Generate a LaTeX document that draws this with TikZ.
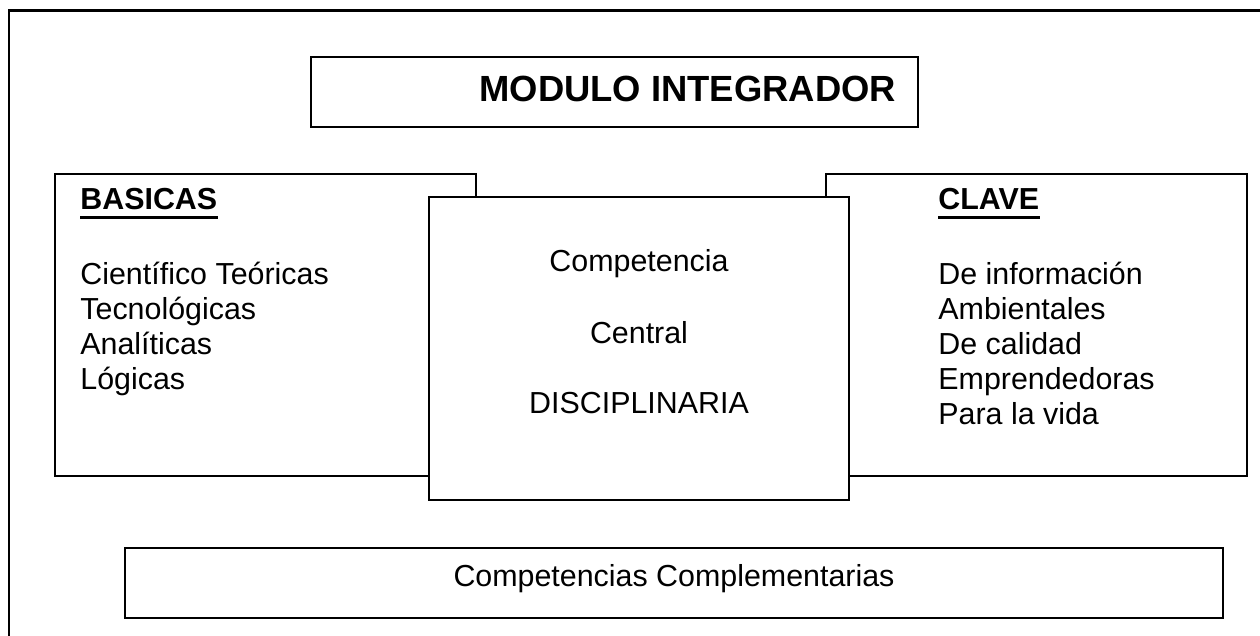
\documentclass[tikz,border=0pt]{standalone}
\usepackage{fontspec}
\setmainfont{Liberation Sans}
\usepackage{tikz}
\usetikzlibrary{positioning}

\begin{document}
\begin{tikzpicture}[x=0.5pt, y=-0.5pt]
        % ================= 样式定义 =================
        \tikzset{
            % 方框:白底黑边
            cbox/.style={draw=black, line width=0.9pt, fill=white, inner sep=0pt},
            % 正文文字 (左对齐, 以基线定位)
            ctext/.style={font=\fontsize{15.2pt}{18pt}\selectfont, inner sep=0pt, anchor=base west},
            % 粗体小标题
            chead/.style={ctext, font=\fontsize{15.2pt}{18pt}\selectfont\bfseries},
            % 居中文字
            cmid/.style={ctext, anchor=base},
            % 标题文字
            ctitle/.style={font=\fontsize{18.2pt}{22pt}\selectfont\bfseries, inner sep=0pt, anchor=base west},
            % 下划线
            uline/.style={line width=1.5pt, black}
        }

        \useasboundingbox (0,0) rectangle (1260,636);

        % ================= 外框 =================
        \draw[line width=1.2pt] (9,10.5) rectangle (1290,670);

        % ================= 标题 =================
        \node[cbox, minimum width=303.5pt, minimum height=35pt] (title) at (614.5,92) {};
        \node[ctitle] (titletext) at (479,102) {MODULO INTEGRADOR};

        % ================= 左框:BASICAS =================
        \node[cbox, minimum width=210.5pt, minimum height=151pt] (basicas) at (265.5,325) {};
        \node[chead] (bhead) at (80,210) {BASICAS};
        \draw[uline] ([yshift=-4pt]bhead.base west) -- ([yshift=-4pt]bhead.base east);
        \foreach \txt/\y [count=\i] in {Científico Teóricas/285, Tecnológicas/320, Analíticas/355, Lógicas/390} {
            \node[ctext] (b\i) at (80,\y) {\txt};
        }

        % ================= 右框:CLAVE =================
        \node[cbox, minimum width=210.5pt, minimum height=151pt] (clave) at (1036.5,325) {};
        \node[chead] (chead) at (938,210) {CLAVE};
        \draw[uline] ([yshift=-4pt]chead.base west) -- ([yshift=-4pt]chead.base east);
        \foreach \txt/\y [count=\i] in {De información/285, Ambientales/320, De calidad/355, Emprendedoras/390, Para la vida/425} {
            \node[ctext] (c\i) at (938,\y) {\txt};
        }

        % ================= 中框 (覆盖左右两框) =================
        \node[cbox, minimum width=210pt, minimum height=151.5pt] (central) at (639,348.5) {};
        \node[cmid] (m1) at (639,272) {Competencia};
        \node[cmid] (m2) at (639,344) {Central};
        \node[cmid] (m3) at (639,414) {DISCIPLINARIA};

        % ================= 底框 =================
        \node[cbox, minimum width=549pt, minimum height=35pt] (compl) at (674,583) {};
        \node[cmid] (compltext) at (674,587) {Competencias Complementarias};

    \end{tikzpicture}
\end{document}
